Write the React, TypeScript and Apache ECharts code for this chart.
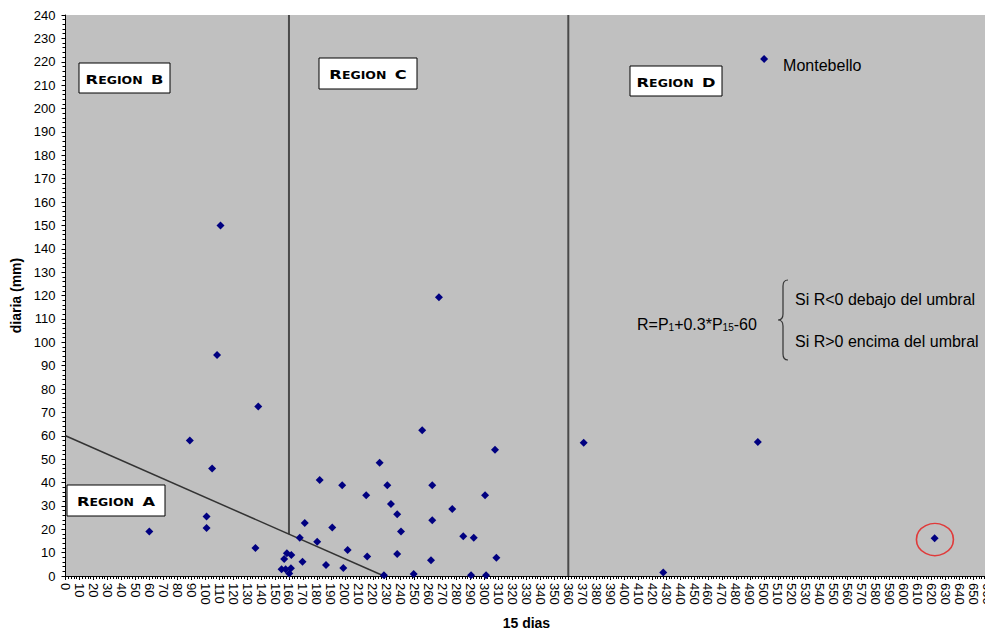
import React, { useEffect, useRef } from "react";
import * as echarts from "echarts";

const xMin = 0;
const xMax = 660;
const xInterval = 10;
const yMin = 0;
const yMax = 240;
const yInterval = 10;

const xAxisTitle = "15 dias";
const yAxisTitle = "diaria (mm)";

const stationPoints: [number, number][] = [
  [60, 19], [89, 58], [101, 20.5], [101, 25.5], [105, 46], [108.5, 94.5], [111, 150],
  [136, 12], [138, 72.5],
  [158.5, 9.7], [161.7, 9], [156.6, 7.3], [154.7, 2.9], [157.6, 2.9], [161.4, 3.3], [160.2, 1.1],
  [167.7, 16.4], [169.7, 6.1], [171.3, 22.7], [180.2, 14.7], [182, 41.1], [186.5, 4.7],
  [191, 20.8], [198.1, 38.8], [198.9, 3.4], [202, 11.1], [215.3, 34.5], [216, 8.3],
  [224.9, 48.5], [228, 0.3], [230.4, 38.8], [233, 30.8], [237.5, 26.4], [240.2, 19],
  [237.5, 9.4], [249.3, 0.9], [255.4, 62.3], [262.6, 38.8], [262.6, 23.8], [261.7, 6.7],
  [267.4, 119.2], [276.9, 28.7], [284.8, 17], [292.3, 16.4], [290.4, 0.3], [300.4, 34.5],
  [301.1, 0.3], [307.5, 54], [308.5, 7.8], [371, 57], [428, 1.5], [495.7, 57.3], [622.3, 16.1],
];
const montebelloPoint: [number, number][] = [[500.2, 221.2]];
const montebelloName = "Montebello";
const circledPoint: [number, number][] = [[622.5, 15.6]];

const lineBC: [number, number][] = [[160, 17.9], [160, 240]];
const lineCD: [number, number][] = [[360, 0], [360, 240]];
const thresholdLine: [number, number][] = [[0, 60], [228, 0]];

const regionLetters = ["A", "B", "C", "D"];
const formulaText = "{m|R=P}{sub|1}{m|+0.3*P}{sub|15}{m|-60}";
const conditionTexts = ["Si R<0 debajo del umbral", "Si R>0 encima del umbral"];

const braceD =
  "M10,0 C6,0 5,2 5,6 L5,34 C5,38 3,40 0,40 C3,40 5,42 5,46 L5,74 C5,78 6,80 10,80";
echarts.graphic.registerShape("brace", echarts.graphic.extendPath(braceD, {}) as any);

const FONT = "'Liberation Sans', Arial, sans-serif";
const navy = "#000080";

function regionBox(letter: string, x: number, y: number, w: number, h: number) {
  return {
    type: "group",
    children: [
      {
        type: "rect",
        shape: { x, y, width: w, height: h },
        style: { fill: "#ffffff", stroke: "#000000", lineWidth: 1 },
      },
      {
        type: "text",
        x: x + w / 2,
        y: y + h / 2 + 1,
        scaleX: 1.25,
        style: {
          text: `{b|R}{s|EGION}  {b|${letter}}`,
          align: "center",
          verticalAlign: "middle",
          fill: "#000",
          rich: {
            b: { fontSize: 13, fontWeight: "bold", fontFamily: "'DejaVu Sans'", fill: "#000", verticalAlign: "bottom" },
            s: { fontSize: 10, fontWeight: "bold", fontFamily: "'DejaVu Sans'", fill: "#000", verticalAlign: "bottom" },
          },
        },
      },
    ],
  };
}

export default function App() {
  const ref = useRef<HTMLDivElement>(null);
  useEffect(() => {
    if (!ref.current) return;
    const chart = echarts.init(ref.current, undefined, { renderer: "svg" });
    const refLine = (data: [number, number][], width: number, color: string) => ({
      type: "line",
      data,
      symbol: "none",
      silent: true,
      lineStyle: { color, width },
      z: 1,
    });
    chart.setOption({
      animation: false,
      backgroundColor: "#ffffff",
      textStyle: { fontFamily: FONT },
      grid: {
        left: 65.5,
        top: 15,
        width: 921.8,
        height: 561,
        containLabel: false,
        outerBoundsMode: "none",
        show: true,
        backgroundColor: "#c0c0c0",
        borderWidth: 0,
      },
      xAxis: {
        type: "value",
        min: xMin,
        max: xMax,
        interval: xInterval,
        name: xAxisTitle,
        nameLocation: "middle",
        nameGap: 40,
        nameTextStyle: { fontSize: 14, fontWeight: "bold", color: "#000", fontFamily: FONT },
        axisLine: { show: true, lineStyle: { color: "#000", width: 1 } },
        axisTick: { show: true, length: 4, lineStyle: { color: "#000" } },
        minorTick: { show: true, splitNumber: 5, length: 3, lineStyle: { color: "#000" } },
        splitLine: { show: false },
        axisLabel: { rotate: -90, fontSize: 13, color: "#000", margin: 7, fontFamily: FONT },
      },
      yAxis: {
        type: "value",
        min: yMin,
        max: yMax,
        interval: yInterval,
        name: yAxisTitle,
        nameLocation: "middle",
        nameGap: 42,
        nameTextStyle: { fontSize: 14, fontWeight: "bold", color: "#000", fontFamily: FONT },
        axisLine: { show: true, lineStyle: { color: "#000", width: 1 } },
        axisTick: { show: true, length: 4, lineStyle: { color: "#000" } },
        minorTick: { show: true, splitNumber: 5, length: 3, lineStyle: { color: "#000" } },
        splitLine: { show: false },
        axisLabel: { fontSize: 13, color: "#000", margin: 10, fontFamily: FONT },
      },
      series: [
        refLine(lineBC, 2, "#4a4a4a"),
        refLine(lineCD, 2, "#4a4a4a"),
        refLine(thresholdLine, 1.5, "#333333"),
        {
          type: "scatter",
          data: stationPoints,
          symbol: "diamond",
          symbolSize: 8,
          itemStyle: { color: navy, opacity: 1 },
          z: 3,
        },
        {
          type: "scatter",
          data: montebelloPoint,
          symbol: "diamond",
          symbolSize: 8,
          itemStyle: { color: navy, opacity: 1 },
          label: {
            show: true,
            formatter: montebelloName,
            position: "right",
            distance: 15,
            offset: [0, 7],
            fontSize: 16,
            color: "#000",
            fontFamily: FONT,
          },
          z: 3,
        },
        {
          type: "scatter",
          data: circledPoint,
          symbol: "circle",
          symbolSize: [37, 32],
          itemStyle: { color: "rgba(0,0,0,0)", borderColor: "#e03a3a", borderWidth: 1.5, opacity: 1 },
          silent: true,
          z: 4,
        },
      ],
      graphic: [
        regionBox(regionLetters[0], 67, 485, 98, 31),
        regionBox(regionLetters[1], 79, 63, 91, 30),
        regionBox(regionLetters[2], 319, 58, 98, 31),
        regionBox(regionLetters[3], 630, 66, 92, 30),
        {
          type: "text",
          x: 637,
          y: 322,
          style: {
            text: formulaText,
            align: "left",
            verticalAlign: "middle",
            fill: "#000",
            fontFamily: FONT,
            rich: {
              m: { fontSize: 16, fontFamily: FONT, fill: "#000", verticalAlign: "bottom", lineHeight: 20 },
              sub: { fontSize: 10, fontFamily: FONT, fill: "#000", verticalAlign: "bottom", lineHeight: 16 },
            },
          },
        },
        {
          type: "brace",
          x: 778,
          y: 280,
          scaleX: 1,
          scaleY: 1,
          style: { fill: "none", stroke: "#333333", lineWidth: 1.2 },
        },
        {
          type: "text",
          x: 795,
          y: 299,
          style: { text: conditionTexts[0], fontSize: 16, fontFamily: FONT, fill: "#000", verticalAlign: "middle" },
        },
        {
          type: "text",
          x: 795,
          y: 341,
          style: { text: conditionTexts[1], fontSize: 16, fontFamily: FONT, fill: "#000", verticalAlign: "middle" },
        },
      ],
    });
    return () => chart.dispose();
  }, []);
  return (
    <div
      ref={ref}
      style={{ position: "fixed", left: 0, top: 0, width: 995, height: 632 }}
    />
  );
}
